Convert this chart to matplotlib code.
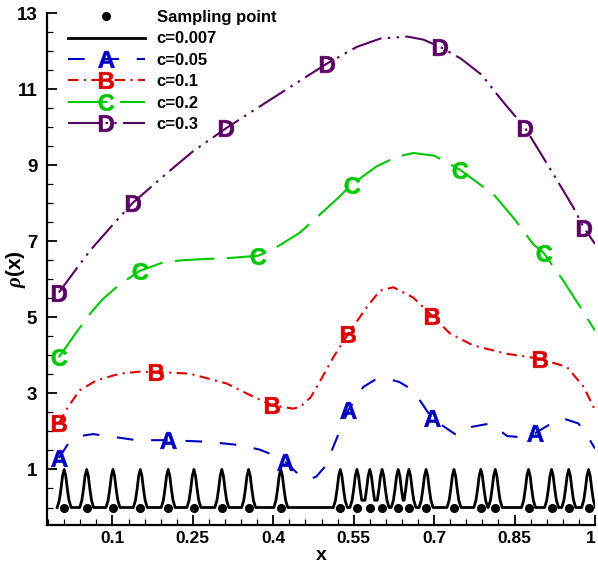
import numpy as np
import matplotlib
matplotlib.use('Agg')
import matplotlib.pyplot as plt
from matplotlib.lines import Line2D
from matplotlib.ticker import MultipleLocator, FuncFormatter
from matplotlib.transforms import ScaledTranslation

plt.rcParams['font.family'] = ['Liberation Sans', 'DejaVu Sans']
plt.rcParams['font.weight'] = 'bold'
plt.rcParams['mathtext.fontset'] = 'custom'
plt.rcParams['mathtext.bf'] = 'Liberation Sans:bold'
plt.rcParams['mathtext.rm'] = 'Liberation Sans:bold'
plt.rcParams['mathtext.it'] = 'Liberation Serif:italic'

# ---------------- data ----------------
sample_x = [0.010, 0.052, 0.101, 0.152, 0.204, 0.252, 0.304, 0.354, 0.414,
            0.525, 0.556, 0.580, 0.603, 0.633, 0.653, 0.685, 0.737, 0.787,
            0.814, 0.876, 0.919, 0.951, 0.988]
sample_y = [0.0] * len(sample_x)

# shape of one c=0.007 peak (offset from its sampling point, height)
peak_dx = [-0.013, -0.009, -0.006, -0.003, 0.0, 0.003, 0.006, 0.009, 0.013]
peak_h = [0.0, 0.19, 0.48, 0.83, 1.0, 0.83, 0.48, 0.19, 0.0]

a_x = [0.0, 0.020, 0.040, 0.064, 0.10, 0.145, 0.204, 0.275, 0.338, 0.375, 0.400,
       0.422, 0.445, 0.465, 0.48, 0.495, 0.512, 0.540, 0.568, 0.590, 0.612, 0.635,
       0.661, 0.696, 0.742, 0.770, 0.805, 0.836, 0.86, 0.888, 0.915, 0.941, 0.969,
       0.985, 1.0]
a_y = [1.30, 1.73, 1.88, 1.93, 1.86, 1.77, 1.77, 1.73, 1.64, 1.52, 1.38,
       1.20, 0.90, 0.73, 0.81, 1.05, 1.60, 2.56, 3.17, 3.36, 3.39, 3.30,
       3.08, 2.34, 1.90, 2.12, 2.21, 1.88, 1.85, 1.95, 2.18, 2.34, 2.21,
       1.90, 1.55]
a_mx = [0.0, 0.204, 0.422, 0.540, 0.696, 0.888]
a_my = [1.30, 1.77, 1.20, 2.56, 2.34, 1.95]

b_x = [0.0, 0.017, 0.039, 0.070, 0.114, 0.15, 0.182, 0.244, 0.313, 0.350, 0.397,
       0.437, 0.45, 0.47, 0.488, 0.512, 0.540, 0.574, 0.599, 0.624, 0.661, 0.696,
       0.730, 0.773, 0.836, 0.898, 0.948, 0.979, 1.0]
b_y = [2.21, 2.64, 3.08, 3.34, 3.52, 3.57, 3.56, 3.52, 3.26, 3.00, 2.69,
       2.60, 2.64, 2.90, 3.34, 3.95, 4.57, 5.26, 5.70, 5.79, 5.52, 5.04,
       4.57, 4.26, 4.04, 3.91, 3.69, 3.17, 2.56]
b_mx = [0.0, 0.182, 0.397, 0.540, 0.696, 0.898]
b_my = [2.21, 3.56, 2.69, 4.57, 5.04, 3.91]

c_x = [0.0, 0.03, 0.058, 0.082, 0.115, 0.151, 0.194, 0.23, 0.269, 0.32, 0.372,
       0.40, 0.45, 0.518, 0.546, 0.593, 0.63, 0.661, 0.70, 0.748, 0.811, 0.85,
       0.885, 0.904, 0.94, 0.973, 1.0]
c_y = [3.95, 4.55, 5.09, 5.48, 5.88, 6.22, 6.44, 6.50, 6.53, 6.56, 6.62,
       6.79, 7.23, 8.10, 8.49, 8.97, 9.22, 9.32, 9.25, 8.88, 8.23, 7.58,
       6.92, 6.70, 5.98, 5.26, 4.65]
c_mx = [0.0, 0.151, 0.372, 0.546, 0.748, 0.904]
c_my = [3.95, 6.22, 6.62, 8.49, 8.88, 6.70]

d_x = [0.0, 0.03, 0.058, 0.1, 0.138, 0.2, 0.25, 0.312, 0.36, 0.4, 0.45, 0.5,
       0.556, 0.6, 0.65, 0.68, 0.711, 0.75, 0.789, 0.823, 0.87, 0.923, 0.96,
       0.979, 1.0]
d_y = [5.65, 6.22, 6.75, 7.42, 8.01, 8.77, 9.36, 9.97, 10.41, 10.77, 11.22, 11.67,
       12.11, 12.33, 12.38, 12.30, 12.11, 11.80, 11.37, 10.76, 9.97, 8.75, 7.88,
       7.36, 6.93]
d_mx = [0.0, 0.138, 0.312, 0.500, 0.711, 0.870, 0.979]
d_my = [5.65, 8.01, 9.97, 11.67, 12.11, 9.97, 7.36]

labels = ['Sampling point', 'c=0.007', 'c=0.05', 'c=0.1', 'c=0.2', 'c=0.3']
letters = ['A', 'B', 'C', 'D']
colors = ['#0000c0', '#dd0000', '#00c800', '#5a0064']
xticks = [0.1, 0.25, 0.4, 0.55, 0.7, 0.85, 1.0]
yticks = [1, 3, 5, 7, 9, 11, 13]

# ---------------- build the c=0.007 line from the peak shape ----------------
blk_x, blk_y = [], []
n = len(sample_x)
for i, xc in enumerate(sample_x):
    lg = xc - sample_x[i - 1] if i > 0 else 1.0
    rg = sample_x[i + 1] - xc if i < n - 1 else 1.0
    for dx, h in zip(peak_dx, peak_h):
        if (dx < 0 and -dx < lg / 2) or (dx >= 0 and dx < rg / 2):
            blk_x.append(xc + dx)
            blk_y.append(h)

# ---------------- figure ----------------
fig = plt.figure(figsize=(5.98, 5.65), dpi=100)
ax = fig.add_axes([47 / 598, 40 / 565, 548 / 598, 512 / 565])

lw = 1.5
styles = [(0, (8, 8.5)), (0, (5, 2.6, 1, 2.6)), (0, (19, 6)),
          (0, (15, 3, 1.2, 3, 1.2, 3))]
series = [(a_x, a_y, a_mx, a_my), (b_x, b_y, b_mx, b_my),
          (c_x, c_y, c_mx, c_my), (d_x, d_y, d_mx, d_my)]
mks = 12

ax.plot(blk_x, blk_y, color='k', lw=2.0, zorder=3)
ax.plot(sample_x, sample_y, ls='none', marker='o', color='k', ms=5.5, zorder=4)

for (sx, sy, mx, my), col, st, let in zip(series, colors, styles, letters):
    ax.plot(sx, sy, color=col, lw=lw, ls=st, zorder=2)
    ax.plot(mx, my, ls='none', marker=r'$\mathbf{%s}$' % let, ms=mks,
            color=col, mec=col, mew=0.4, zorder=5)

handles = [Line2D([], [], ls='none', marker='o', color='k', ms=5.5),
           Line2D([], [], color='k', lw=2.0)]
for col, st, let in zip(colors, styles, letters):
    handles.append(Line2D([], [], color=col, lw=lw, ls=st,
                          marker=r'$\mathbf{%s}$' % let, ms=mks, mec=col, mew=0.4))
ax.legend(handles, labels, loc='upper left', bbox_to_anchor=(0.026, 1.019),
          frameon=False, handlelength=4.6, handletextpad=0.72, labelspacing=0.385,
          borderaxespad=0, numpoints=1, prop={'weight': 'bold', 'size': 12})

ax.set_xlim(-0.022, 1.0)
ax.set_ylim(-0.46, 13.0)
ax.set_xticks(xticks)
ax.set_yticks(yticks)
ax.xaxis.set_minor_locator(MultipleLocator(0.03, offset=0.01))
ax.yaxis.set_minor_locator(MultipleLocator(0.5))
ax.xaxis.set_major_formatter(FuncFormatter(lambda v, p: f'{round(v, 4):g}'))
ax.yaxis.set_major_formatter(FuncFormatter(lambda v, p: f'{round(v, 4):g}'))

for s in ['top', 'right']:
    ax.spines[s].set_visible(False)
for s in ['left', 'bottom']:
    ax.spines[s].set_linewidth(1.6)
ax.tick_params(which='major', direction='in', length=7, width=1.3, pad=4)
ax.tick_params(which='minor', direction='in', length=4, width=0.9)
ax.tick_params(axis='x', which='major', labelsize=12.5)
ax.tick_params(axis='y', which='major', pad=7, labelsize=13.5)
for lab in ax.get_xticklabels() + ax.get_yticklabels():
    lab.set_fontweight('bold')
last = ax.get_xticklabels()[-1]
last.set_transform(last.get_transform() +
                   ScaledTranslation(-3 / 72, 0, fig.dpi_scale_trans))

ax.set_xlabel('x', fontsize=14, fontweight='bold')
ax.xaxis.set_label_coords(0.5, -0.042)
ax.set_ylabel(r'$\rho\mathbf{(x)}$', fontsize=15)
ax.yaxis.set_label_coords(-0.034, 0.5)

fig.savefig('out.png', dpi=100)
